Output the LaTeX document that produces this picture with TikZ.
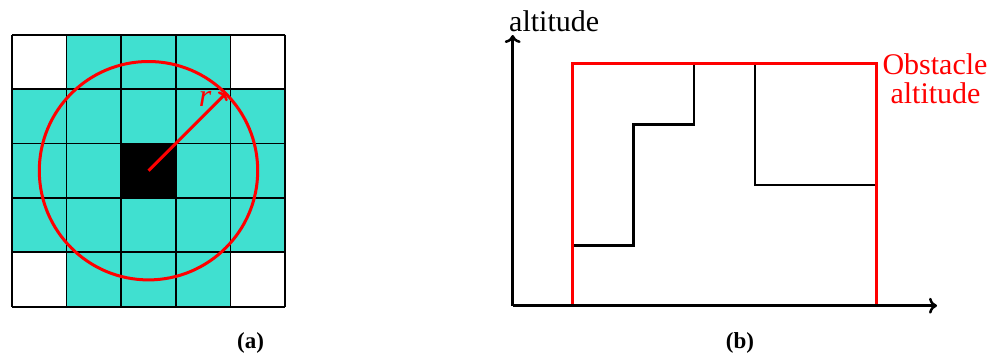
\documentclass[tikz,border=0pt]{standalone}
\usepackage{fontspec}
\setmainfont{Liberation Serif}
\usetikzlibrary{arrows.meta}
\definecolor{turq}{HTML}{40E0D0}
\tikzset{
  gridline/.style={draw=black,line width=1.7pt},
  redline/.style={draw=red,line width=3pt},
  blackline/.style={draw=black,line width=2.5pt},
  axis/.style={draw=black,line width=2.5pt,-{To[length=8pt,width=16pt,line width=2.5pt]}},
  lbl/.style={inner sep=0pt,font=\fontsize{30}{34}\selectfont},
  captxt/.style={inner sep=0pt,font=\fontsize{23}{26}\selectfont\bfseries}
}
\begin{document}
\begin{tikzpicture}[x=1pt,y=-1pt]
\useasboundingbox (0,0) rectangle (995,356);
% (a) grid
\fill[turq] (67,34.7) rectangle (230,306.7);
\fill[turq] (12,89.1) rectangle (285,252.3);
\fill[black] (121.4,143.5) rectangle (175.8,197.9);
\foreach \i in {0,...,5}{
  \draw[gridline] (12+54.6*\i,34.7) -- (12+54.6*\i,306.7);
  \draw[gridline] (12,34.7+54.4*\i) -- (285,34.7+54.4*\i);
}
\coordinate (c) at (148.5,170.7);
\coordinate (rtip) at (226.2,93);
\draw[redline] (c) circle (109.2);
\draw[redline,-{To[length=6pt,width=13pt,line width=2.5pt]}] (c) -- (rtip);
\node[lbl,text=red,font=\fontsize{32}{34}\selectfont\itshape] (r) at (205,99) {r};
\node[captxt] (capa) at (250.5,343) {(a)};
% (b)
\coordinate (o) at (512.7,305.7);
\coordinate (ytip) at (512.7,35);
\coordinate (xtip) at (937,305.7);
\draw[blackline] (572.7,245.7) -- (633.3,245.7) -- (633.3,124.7) -- (694,124.7) -- (694,63.3) -- (755,63.3) -- (755,185) -- (876,185);
\draw[redline,line join=miter] (572.7,305.7) -- (572.7,63.3) -- (876,63.3) -- (876,305.7);
\draw[axis] (o) -- (ytip);
\draw[axis] (o) -- (xtip);
\node[lbl,anchor=base west] (alt) at (509,31) {altitude};
\node[lbl,anchor=base,text=red] (obs) at (935,74) {Obstacle};
\node[lbl,anchor=base,text=red] (obs2) at (935.5,103) {altitude};
\node[captxt] (capb) at (740,343) {(b)};
\end{tikzpicture}
\end{document}
